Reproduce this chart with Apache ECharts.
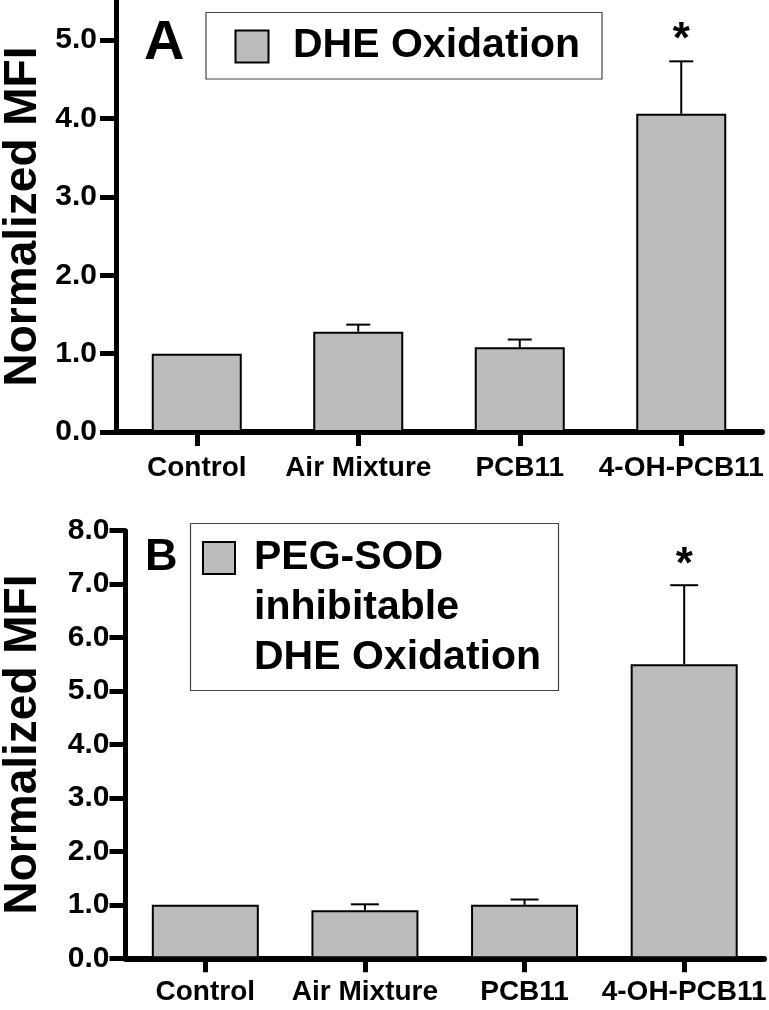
<!DOCTYPE html>
<html>
<head>
<meta charset="utf-8">
<script src="https://cdn.jsdelivr.net/npm/echarts@6/dist/echarts.min.js"></script>
<style>
html,body{margin:0;padding:0;background:#fff;}
#chart{width:769px;height:1010px;}
</style>
</head>
<body>
<div id="chart"></div>
<script>
// ---- data ----
const categories = ['Control', 'Air Mixture', 'PCB11', '4-OH-PCB11'];
const dheMean = [1.0, 1.28, 1.08, 4.06];
const dheErr  = [0, 0.09, 0.10, 0.67];
const dheSig  = ['', '', '', '*'];
const pegMean = [1.0, 0.90, 1.0, 5.50];
const pegErr  = [0, 0.11, 0.10, 1.48];
const pegSig  = ['', '', '', '*'];
const yTicksA = [0, 1, 2, 3, 4, 5];
const yTicksB = [0, 1, 2, 3, 4, 5, 6, 7, 8];
const seriesNameA = 'DHE Oxidation';
const seriesNameB = 'PEG-SOD\ninhibitable\nDHE Oxidation';
const yAxisTitle = 'Normalized MFI';

// ---- styles ----
const FONT = '"Liberation Sans", Arial, Helvetica, sans-serif';
const BAR_FILL = '#bbbcbe';

const chart = echarts.init(document.getElementById('chart'), null, {renderer: 'canvas'});

function errRenderer(sig, capW, starFont, starOffset) {
  return function (params, api) {
    const i = api.value(0), m = api.value(1), e = api.value(2);
    const base = api.coord([i, m]);
    const top = api.coord([i, m + e]);
    const children = [];
    if (e > 0) {
      children.push({type: 'line', shape: {x1: base[0], y1: base[1], x2: top[0], y2: top[1]},
        style: {stroke: '#000', lineWidth: 2}});
      children.push({type: 'line', shape: {x1: top[0] - capW / 2, y1: top[1], x2: top[0] + capW / 2, y2: top[1]},
        style: {stroke: '#000', lineWidth: 2}});
    }
    const s = sig[params.dataIndex];
    if (s) {
      children.push({type: 'text', style: {text: s, x: top[0], y: top[1] - starOffset,
        align: 'center', verticalAlign: 'middle', font: 'bold ' + starFont + 'px ' + FONT, fill: '#000'}});
    }
    return {type: 'group', children: children};
  };
}

function makeYAxis(gridIndex, max, ticks, nameGap, labelMargin) {
  return {
    type: 'value', gridIndex: gridIndex, min: 0, max: max,
    name: yAxisTitle, nameLocation: 'middle', nameRotate: 90, nameGap: nameGap, nameMoveOverlap: false,
    nameTextStyle: {fontFamily: FONT, fontWeight: 'bold', fontSize: 46, color: '#000'},
    axisLine: {show: true, lineStyle: {color: '#000', width: 5}},
    axisTick: {show: true, length: 16, lineStyle: {color: '#000', width: 5}, customValues: ticks},
    axisLabel: {fontFamily: FONT, fontWeight: 'bold', fontSize: 30, color: '#000', margin: labelMargin,
      customValues: ticks, formatter: v => Number(v).toFixed(1)},
    splitLine: {show: false}
  };
}

function makeXAxis(gridIndex, labelMargin) {
  return {
    type: 'category', gridIndex: gridIndex, data: categories,
    axisLine: {show: true, lineStyle: {color: '#000', width: 6}},
    axisTick: {show: true, alignWithLabel: true, length: 14, lineStyle: {color: '#000', width: 5}},
    axisLabel: {fontFamily: FONT, fontWeight: 'bold', fontSize: 28, color: '#000', margin: labelMargin, interval: 0},
    splitLine: {show: false}
  };
}

const option = {
  animation: false,
  backgroundColor: '#fff',
  grid: [
    {left: 116, right: 7, top: 1, height: 431, outerBoundsMode: 'none'},
    {left: 125.5, right: 5, top: 530.7, height: 427.6, outerBoundsMode: 'none'}
  ],
  xAxis: [makeXAxis(0, 22), makeXAxis(1, 20)],
  yAxis: [makeYAxis(0, 5.5, yTicksA, 70, 19), makeYAxis(1, 8, yTicksB, 79, 16)],
  series: [
    {type: 'bar', name: seriesNameA, xAxisIndex: 0, yAxisIndex: 0, data: dheMean, barWidth: 90,
      itemStyle: {color: BAR_FILL, borderColor: '#000', borderWidth: 2}},
    {type: 'custom', xAxisIndex: 0, yAxisIndex: 0, z: 5, clip: false,
      data: categories.map((c, i) => [i, dheMean[i], dheErr[i]]),
      renderItem: errRenderer(dheSig, 24, 44, 20)},
    {type: 'bar', name: seriesNameB, xAxisIndex: 1, yAxisIndex: 1, data: pegMean, barWidth: 107,
      itemStyle: {color: BAR_FILL, borderColor: '#000', borderWidth: 2}},
    {type: 'custom', xAxisIndex: 1, yAxisIndex: 1, z: 5, clip: false,
      data: categories.map((c, i) => [i, pegMean[i], pegErr[i]]),
      renderItem: errRenderer(pegSig, 28, 44, 19)}
  ],
  graphic: [
    // panel letters
    {type: 'text', left: 144, top: 16, style: {text: 'A', font: 'bold 56px ' + FONT, fill: '#000'}},
    {type: 'text', left: 145, top: 535, style: {text: 'B', font: 'bold 45px ' + FONT, fill: '#000'}},
    // legend A
    {type: 'rect', shape: {x: 206, y: 12.5, width: 396, height: 66.5}, style: {fill: '#fff', stroke: '#444', lineWidth: 1.2}, z: 10},
    {type: 'rect', shape: {x: 235.5, y: 30.5, width: 33, height: 32}, style: {fill: BAR_FILL, stroke: '#000', lineWidth: 2}, z: 11},
    {type: 'text', x: 293, y: 46, style: {text: seriesNameA, font: 'bold 41px ' + FONT, fill: '#000', verticalAlign: 'middle'}, z: 11},
    // legend B
    {type: 'rect', shape: {x: 190.5, y: 523.5, width: 368, height: 167}, style: {fill: '#fff', stroke: '#444', lineWidth: 1.2}, z: 10},
    {type: 'rect', shape: {x: 203, y: 542, width: 32, height: 32}, style: {fill: BAR_FILL, stroke: '#000', lineWidth: 2}, z: 11},
    {type: 'text', x: 254, y: 533, style: {text: seriesNameB, font: 'bold 41px ' + FONT, lineHeight: 50, fill: '#000', verticalAlign: 'top'}, z: 11}
  ]
};
chart.setOption(option);
</script>
</body>
</html>
